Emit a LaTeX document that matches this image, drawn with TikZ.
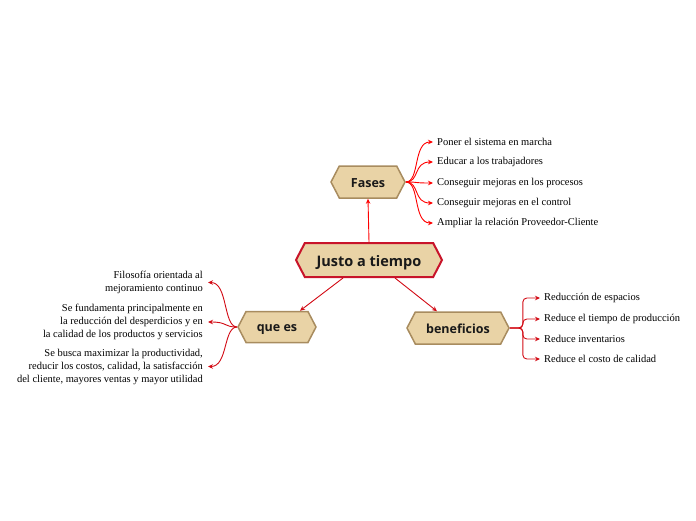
\documentclass[tikz,border=0pt]{standalone}
\usepackage{fontspec}
\setmainfont{Liberation Serif}
\newfontfamily\labelfont{Open Sans}
\usetikzlibrary{shapes.symbols,arrows.meta}
\definecolor{hexfill}{RGB}{233,211,166}
\definecolor{mainborder}{RGB}{200,20,42}
\definecolor{subborder}{RGB}{168,140,95}
\definecolor{linkred}{RGB}{255,0,0}
\definecolor{linkdark}{RGB}{210,10,20}
\begin{document}
\begin{tikzpicture}[x=1pt,y=-1pt,
  hexbase/.style={signal, signal to=west and east, signal pointer angle=125, inner sep=0pt, text=black!90, text depth=0pt},
  mainhex/.style={hexbase, draw=mainborder, line width=2pt, fill=hexfill, minimum width=146pt, minimum height=34pt, text height=12.5pt, font=\labelfont\bfseries\fontsize{14.5}{16}\selectfont},
  subhex/.style={hexbase, draw=subborder, line width=1.5pt, fill=hexfill, minimum height=32pt, text height=10.5pt, font=\labelfont\bfseries\fontsize{12.5}{14}\selectfont},
  leafR/.style={anchor=west, inner xsep=4pt, inner ysep=0pt, font=\fontsize{10.5}{13}\selectfont},
  leafL/.style={anchor=east, align=right, inner xsep=5pt, inner ysep=0pt, font=\fontsize{10.5}{13}\selectfont},
  link/.style={draw=linkred, line width=0.9pt, -{Stealth[length=5pt,width=4.5pt]}},
  linkd/.style={draw=linkdark, line width=0.9pt, -{Stealth[length=5pt,width=4.5pt]}}
]
\useasboundingbox (0,0) rectangle (696,520);

\node[mainhex] (main) at (369,260) {Justo a tiempo};
\node[subhex, minimum width=74pt] (fases) at (368,182) {Fases};
\node[subhex, minimum width=78pt, minimum height=31pt, text height=9pt] (quees) at (277,327) {que es};
\node[subhex, minimum width=102pt] (benef) at (458,328) {beneficios};

\draw[link] (main.north) -- (fases.south);
\draw[linkd] ([xshift=-26pt]main.south) -- ([xshift=23pt]quees.north);
\draw[linkd] ([xshift=26pt]main.south) -- ([xshift=-21pt]benef.north);

% Fases leaves
\node[leafR] (f1) at (433,142) {Poner el sistema en marcha};
\node[leafR] (f2) at (433,162) {Educar a los trabajadores};
\node[leafR] (f3) at (433,183) {Conseguir mejoras en los procesos};
\node[leafR] (f4) at (433,203) {Conseguir mejoras en el control};
\node[leafR] (f5) at (433,223) {Ampliar la relación Proveedor-Cliente};
\foreach \l in {f1,f2,f3,f4,f5}
  \draw[link] (fases.east) .. controls ([xshift=14pt]fases.east) and ([xshift=-20pt]\l.west) .. (\l.west);

% beneficios leaves
\node[leafR] (b1) at (540,298) {Reducción de espacios};
\node[leafR] (b2) at (540,319) {Reduce el tiempo de producción};
\node[leafR] (b3) at (540,339) {Reduce inventarios};
\node[leafR] (b4) at (540,359) {Reduce el costo de calidad};
\foreach \l in {b1,b2,b3,b4}
  \draw[linkd, rounded corners=4pt] (benef.east) -- ([xshift=13pt]benef.east) |- (\l.west);

% que es leaves
\node[leafL] (q1) at (208,282.5) {Filosofía orientada al\\mejoramiento continuo};
\node[leafL] (q2) at (208,322) {Se fundamenta principalmente en\\la reducción del desperdicios y en\\la calidad de los productos y servicios};
\node[leafL] (q3) at (208,366.5) {Se busca maximizar la productividad,\\reducir los costos, calidad, la satisfacción\\del cliente, mayores ventas y mayor utilidad};
\foreach \l in {q1,q2,q3}
  \draw[linkd] (quees.west) .. controls ([xshift=-14pt]quees.west) and ([xshift=20pt]\l.east) .. (\l.east);
\end{tikzpicture}
\end{document}
